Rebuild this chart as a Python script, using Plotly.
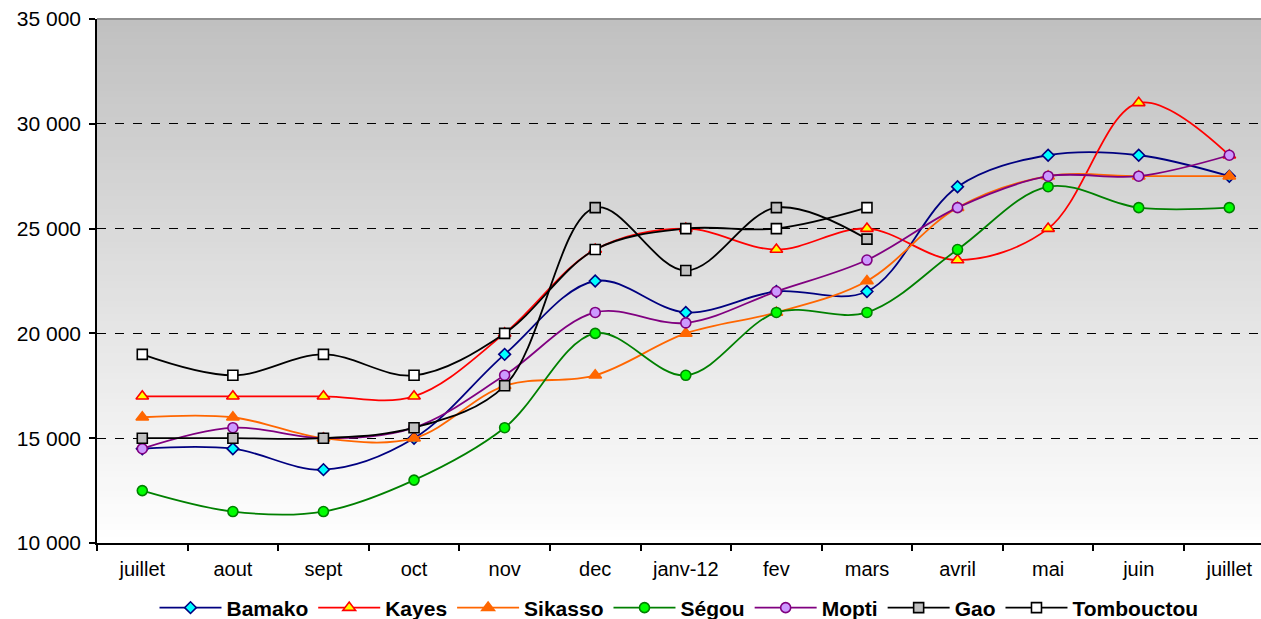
import plotly.graph_objects as go

months = ["juillet", "aout", "sept", "oct", "nov", "dec", "janv-12", "fev",
          "mars", "avril", "mai", "juin", "juillet"]

bamako = [14500, 14500, 13500, 15000, 19000, 22500, 21000, 22000, 22000, 27000, 28500, 28500, 27500]
kayes = [17000, 17000, 17000, 17000, 20000, 24000, 25000, 24000, 25000, 23500, 25000, 31000, 28500]
sikasso = [16000, 16000, 15000, 15000, 17500, 18000, 20000, 21000, 22500, 26000, 27500, 27500, 27500]
segou = [12500, 11500, 11500, 13000, 15500, 20000, 18000, 21000, 21000, 24000, 27000, 26000, 26000]
mopti = [14500, 15500, 15000, 15500, 18000, 21000, 20500, 22000, 23500, 26000, 27500, 27500, 28500]
gao = [15000, 15000, 15000, 15500, 17500, 26000, 23000, 26000, 24500, None, None, None, None]
tombouctou = [19000, 18000, 19000, 18000, 20000, 24000, 25000, 25000, 26000, None, None, None, None]

y_ticks = [10000, 15000, 20000, 25000, 30000, 35000]

x = list(range(len(months)))

series = [
    ("Bamako", bamako, "#000080", "diamond", "#00FFFF", "#000080", 9),
    ("Kayes", kayes, "#FF0000", "triangle-up", "#FFFF00", "#FF0000", 11),
    ("Sikasso", sikasso, "#FF6600", "triangle-up", "#FF6600", "#FF6600", 11),
    ("Ségou", segou, "#008000", "circle", "#00FF00", "#008000", 10),
    ("Mopti", mopti, "#800080", "circle", "#CC99FF", "#800080", 10),
    ("Gao", gao, "#000000", "square", "#C0C0C0", "#000000", 10),
    ("Tombouctou", tombouctou, "#000000", "square", "#FFFFFF", "#000000", 10),
]

fig = go.Figure()
for name, vals, lc, sym, fc, mc, sz in series:
    fig.add_trace(go.Scatter(
        x=x, y=vals, name=name, mode="lines+markers",
        line=dict(color=lc, width=1.8, shape="spline", smoothing=1.0),
        marker=dict(symbol=sym, color=fc, size=sz, line=dict(color=mc, width=1.6)),
        connectgaps=False,
    ))

# vertical gradient background (grey at top to white at bottom)
shapes = []
n = 80
for i in range(n):
    t0 = i / n
    t1 = (i + 1) / n
    tm = (t0 + t1) / 2
    v = int(round(255 - (255 - 192) * tm))
    shapes.append(dict(type="rect", xref="x domain", yref="y domain",
                       x0=0, x1=1, y0=t0, y1=t1 + 0.002,
                       fillcolor=f"rgb({v},{v},{v})", line=dict(width=0),
                       layer="below"))
shapes.append(dict(type="line", xref="x domain", yref="y domain", x0=0, x1=1,
                   y0=1, y1=1, line=dict(color="#808080", width=1.5),
                   layer="above"))

fig.update_layout(
    width=1261, height=619,
    margin=dict(l=97, r=0, t=19, b=76, autoexpand=False),
    paper_bgcolor="white", plot_bgcolor="white",
    separators=". ",
    shapes=shapes,
    font=dict(family="Liberation Sans, Arial, sans-serif", size=20, color="black"),
    showlegend=True,
    legend=dict(orientation="h", x=0.5, xanchor="center", xref="paper",
                y=-0.124, yanchor="middle", yref="paper",
                font=dict(size=21, family="Liberation Sans, Arial, sans-serif", weight="bold"),
                itemwidth=62, tracegroupgap=0),
    xaxis=dict(range=[-0.5, 12.35], tickmode="array", tickvals=x, ticktext=months,
               ticks="", showgrid=False, zeroline=False, automargin=False,
               showline=True, linecolor="black", linewidth=1.5,
               minor=dict(tick0=0.5, dtick=1, ticks="outside", ticklen=6,
                          tickcolor="black", tickwidth=1.5, showgrid=False),
               tickfont=dict(size=20), ticklabelstandoff=7),
    yaxis=dict(range=[10000, 35000], tickmode="array", tickvals=y_ticks,
               tickformat=",d", ticks="outside", ticklen=6, tickcolor="black",
               tickwidth=1.5, showline=True, linecolor="black", linewidth=1.5,
               showgrid=True, gridcolor="black", griddash="dash", gridwidth=1,
               zeroline=False, automargin=False, tickfont=dict(size=21),
               ticklabelstandoff=4),
)

fig.write_html("out.html")
